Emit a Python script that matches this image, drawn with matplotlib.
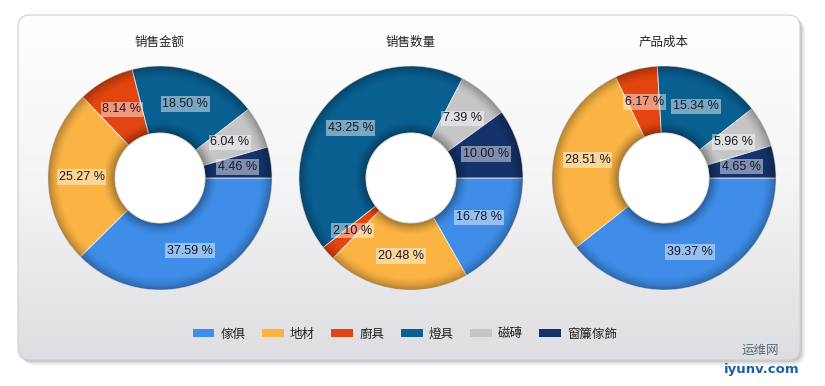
import numpy as np
import matplotlib
matplotlib.use("Agg")
import matplotlib.pyplot as plt
from matplotlib.patches import FancyBboxPatch, Wedge, Rectangle

plt.rcParams['font.family'] = ['Noto Sans CJK SC', 'DejaVu Sans']

# ---- data ----
categories = ['傢俱', '地材', '廚具', '燈具', '磁磚', '窗簾傢飾']
chart_titles = ['销售金额', '销售数量', '产品成本']
sales_amount = [37.59, 25.27, 8.14, 18.50, 6.04, 4.46]
sales_qty = [16.78, 20.48, 2.10, 43.25, 7.39, 10.00]
product_cost = [39.37, 28.51, 6.17, 15.34, 5.96, 4.65]
series = [sales_amount, sales_qty, product_cost]
colors = ['#3f8de8', '#fbb444', '#e2450f', '#0a5f91', '#c6c6c8', '#15336a']

W, H = 825, 386
fig = plt.figure(figsize=(W / 100, H / 100), dpi=100)
ax = fig.add_axes([0, 0, 1, 1])
ax.set_xlim(0, W)
ax.set_ylim(0, H)
ax.set_aspect('equal')
ax.axis('off')
fig.patch.set_facecolor('white')

def Y(y):
    return H - y

# panel shadow
for off, a in [(5, 0.10), (3.5, 0.15), (2, 0.2)]:
    sh = FancyBboxPatch((18 + off, Y(360) - off), 782, 345,
                        boxstyle="round,pad=0,rounding_size=12",
                        fc='#777777', ec='none', alpha=a, zorder=0)
    ax.add_patch(sh)
panel = FancyBboxPatch((18, Y(360)), 782, 345,
                       boxstyle="round,pad=0,rounding_size=12",
                       fc='none', ec='#cfcfd2', lw=0.8, zorder=2)
ax.add_patch(panel)
grad = np.linspace(0, 1, 256).reshape(-1, 1)
cmap = matplotlib.colors.LinearSegmentedColormap.from_list('g', ['#ffffff', '#f4f4f6', '#dedee2'])
im = ax.imshow(grad, extent=(18, 800, Y(360), Y(15)), origin='upper', cmap=cmap,
               aspect='auto', zorder=1)
im.set_clip_path(panel)

centers = [(160, 178), (411, 178), (664, 178)]
r_out, r_in = 112, 45

for (cx, cy), vals, title in zip(centers, series, chart_titles):
    c = (cx, Y(cy))
    wedges, _ = ax.pie(vals, colors=colors, startangle=0, counterclock=False,
                       center=c, radius=r_out, frame=True,
                       wedgeprops=dict(width=r_out - r_in, edgecolor='#e8e8e8', linewidth=0.6))
    for w in wedges:
        w.set_zorder(3)
    # bevel shading
    n = 12
    for i in range(n):
        a = 0.28 * (1 - i / n) ** 1.5
        ax.add_patch(Wedge(c, r_out - i, 0, 360, width=1, fc='black', ec='none', alpha=a, zorder=4))
    for i in range(n):
        a = 0.35 * (1 - i / n) ** 1.5
        ax.add_patch(Wedge(c, r_in + i + 1, 0, 360, width=1, fc='black', ec='none', alpha=a, zorder=4))
    ax.add_patch(Wedge(c, r_in, 0, 360, fc='white', ec='#d8d8d8', lw=0.6, zorder=5))
    # labels
    cum = np.cumsum([0] + list(vals))
    for i, v in enumerate(vals):
        mid = -(cum[i] + v / 2) / 100 * 360
        rr = (r_out + r_in) / 2
        x = c[0] + rr * np.cos(np.radians(mid))
        y = c[1] + rr * np.sin(np.radians(mid))
        ax.text(x, y, f'{v:.2f} %', ha='center', va='center', fontsize=9,
                family='Liberation Sans', color='#1a1a2a', zorder=6,
                bbox=dict(boxstyle='square,pad=0.15', fc='white', ec='none', alpha=0.45))
    ax.text(cx, Y(42), title, ha='center', va='center', fontsize=9, color='#222222', zorder=6)

ax.set_xlim(0, W)
ax.set_ylim(0, H)
ax.axis('off')

handles = [Rectangle((0, 0), 1, 1, fc=col, ec='none') for col in colors]
leg = ax.legend(handles, categories, ncol=6, loc='center', bbox_to_anchor=(405 / W, 1 - 334 / H),
                bbox_transform=fig.transFigure, frameon=False, fontsize=9,
                handlelength=1.75, handleheight=0.6, handletextpad=0.5, columnspacing=1.3)
for t in leg.get_texts():
    t.set_color('#222222')

# watermark
ax.text(760, Y(350), '运维网', fontsize=9, color='#5a6a7a', ha='center', va='center', zorder=7)
ax.text(762, Y(370), 'iyunv.com', fontsize=9.5, color='#1f5fa8', ha='center', va='center',
        family='DejaVu Sans', weight='bold', zorder=7)

fig.savefig('out.png', dpi=100, facecolor='white')
